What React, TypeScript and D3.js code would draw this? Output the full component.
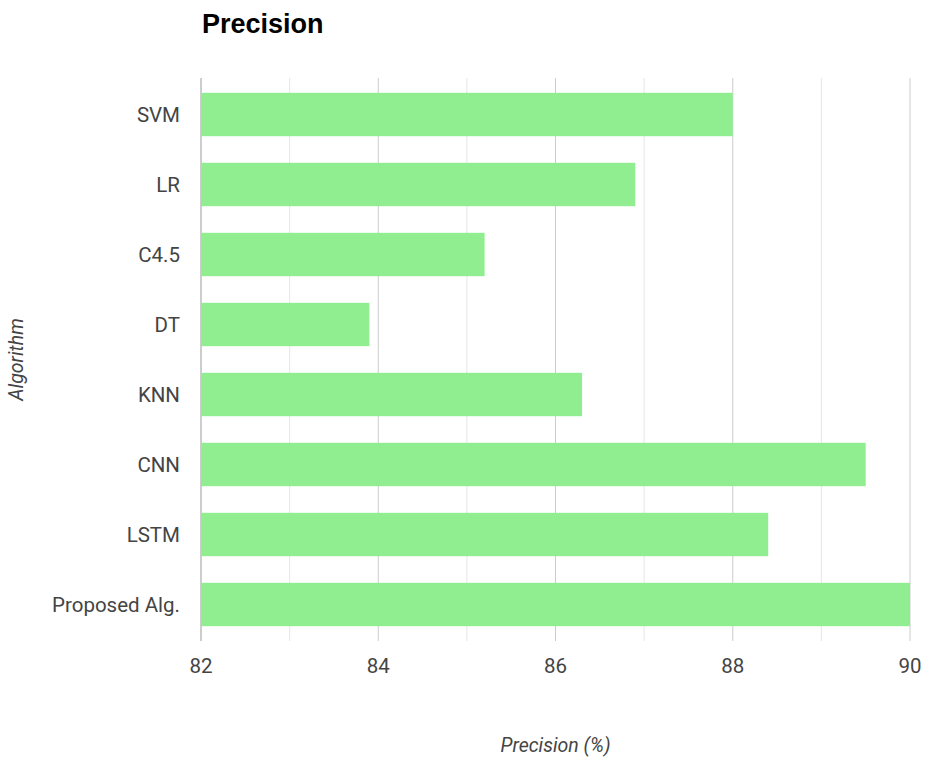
import React, { useRef, useEffect } from "react";
import * as d3 from "d3";

const algorithms = ["SVM", "LR", "C4.5", "DT", "KNN", "CNN", "LSTM", "Proposed Alg."];
const precision = [88.0, 86.9, 85.2, 83.9, 86.3, 89.5, 88.4, 90.0];
const xTicks = [82, 84, 86, 88, 90];
const xMinorTicks = [83, 85, 87, 89];

const W = 925;
const H = 758;

const App = () => {
    const ref = useRef<SVGSVGElement | null>(null);

    useEffect(() => {
        if (!ref.current) return;
        const svg = d3.select(ref.current);
        svg.selectAll("*").remove();

        const left = 201;
        const right = 910;
        const top = 79.5;
        const bottom = 639.5;

        const x = d3.scaleLinear().domain([82, 90]).range([left, right]);
        const y = d3
            .scaleBand<string>()
            .domain(algorithms)
            .range([top, bottom])
            .paddingInner(0.38)
            .paddingOuter(0.19);

        // minor gridlines
        svg.append("g")
            .selectAll("line")
            .data(xMinorTicks)
            .join("line")
            .attr("x1", (d) => x(d))
            .attr("x2", (d) => x(d))
            .attr("y1", 78)
            .attr("y2", 641)
            .attr("stroke", "#e6e6e6")
            .attr("stroke-width", 1);

        // major gridlines
        svg.append("g")
            .selectAll("line")
            .data(xTicks)
            .join("line")
            .attr("x1", (d) => x(d))
            .attr("x2", (d) => x(d))
            .attr("y1", 78)
            .attr("y2", 641)
            .attr("stroke", (d) => (d === 82 ? "#bdbdbd" : "#cccccc"))
            .attr("stroke-width", (d) => (d === 82 ? 1.5 : 1));

        // bars
        svg.append("g")
            .selectAll("rect")
            .data(algorithms)
            .join("rect")
            .attr("x", x(82))
            .attr("y", (d) => y(d)!)
            .attr("width", (_, i) => x(precision[i]) - x(82))
            .attr("height", y.bandwidth())
            .attr("fill", "#90ee90");

        // category labels
        svg.append("g")
            .selectAll("text")
            .data(algorithms)
            .join("text")
            .attr("x", 180)
            .attr("y", (d) => y(d)! + y.bandwidth() / 2)
            .attr("dy", "0.35em")
            .attr("text-anchor", "end")
            .attr("font-family", "Roboto, Arial, sans-serif")
            .attr("font-size", 20.5)
            .attr("fill", "#444")
            .text((d) => d);

        // x tick labels
        svg.append("g")
            .selectAll("text")
            .data(xTicks)
            .join("text")
            .attr("x", (d) => x(d))
            .attr("y", 666)
            .attr("dy", "0.35em")
            .attr("text-anchor", "middle")
            .attr("font-family", "Roboto, Arial, sans-serif")
            .attr("font-size", 20.5)
            .attr("fill", "#444")
            .text((d) => d);

        // title
        svg.append("text")
            .attr("x", 202)
            .attr("y", 33)
            .attr("font-family", "Arial, 'Liberation Sans', sans-serif")
            .attr("font-weight", "bold")
            .attr("font-size", 27)
            .attr("fill", "#000")
            .text("Precision");

        // x axis title
        svg.append("text")
            .attr("x", (left + right) / 2)
            .attr("y", 752)
            .attr("text-anchor", "middle")
            .attr("font-family", "Roboto, Arial, sans-serif")
            .attr("font-style", "italic")
            .attr("font-size", 19.5)
            .attr("fill", "#444")
            .text("Precision (%)");

        // y axis title
        svg.append("text")
            .attr("transform", `translate(23,${(top + bottom) / 2}) rotate(-90)`)
            .attr("text-anchor", "middle")
            .attr("font-family", "Roboto, Arial, sans-serif")
            .attr("font-style", "italic")
            .attr("font-size", 19.5)
            .attr("fill", "#444")
            .text("Algorithm");
    }, []);

    return (
        <svg
            ref={ref}
            width={W}
            height={H}
            style={{ position: "absolute", left: 0, top: 0, background: "#fff" }}
        />
    );
};

export default App;
